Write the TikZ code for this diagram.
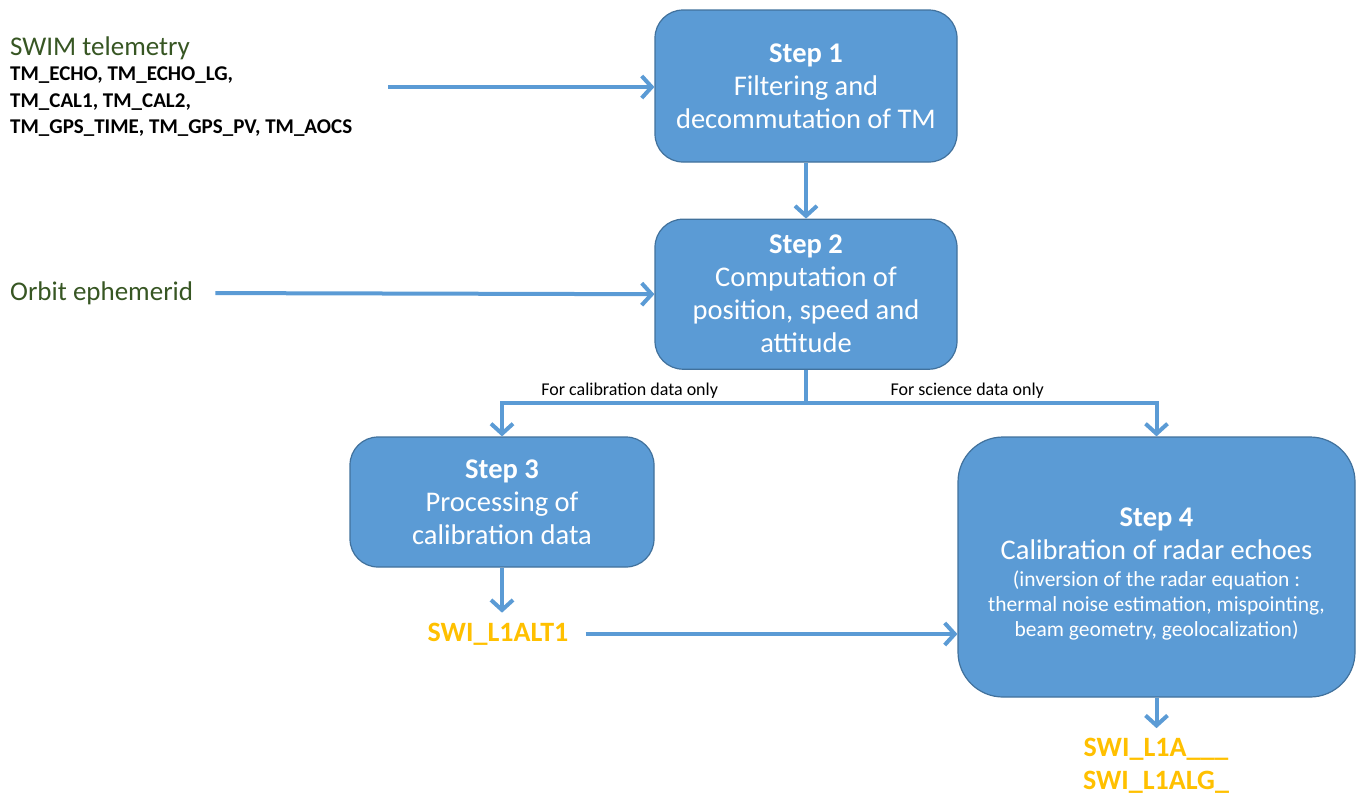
\documentclass[tikz,border=0pt]{standalone}
\usepackage{fontspec}
\setmainfont{Carlito}
\usetikzlibrary{arrows.meta,positioning}

\definecolor{stepfill}{HTML}{5B9BD5}
\definecolor{stepline}{HTML}{41719C}
\definecolor{ingreen}{HTML}{375623}
\definecolor{outorange}{HTML}{FFC000}

\newcommand{\stepfont}{\fontsize{28.5}{33}\selectfont}
\newcommand{\stepsmall}{\fontsize{21.5}{25}\selectfont}

\tikzset{
  stepbox/.style={draw=stepline, line width=1.2pt, fill=stepfill, text=white,
    align=center, font=\stepfont, inner sep=0pt, rounded corners=28pt},
  flow/.style={->, draw=stepfill, line width=4pt},
  inlabel/.style={text=ingreen, anchor=west, inner sep=0pt, font=\fontsize{27}{30}\selectfont},
  outlabel/.style={text=outorange, font=\fontsize{28}{33}\selectfont\bfseries, inner sep=0pt},
  branchlabel/.style={font=\fontsize{18}{20}\selectfont, above, inner sep=2pt}
}

\begin{document}
\begin{tikzpicture}[x=1pt, y=-1pt, >={Straight Barb[length=10pt,width=22pt]}]
  \useasboundingbox (0,0) rectangle (1362,796);

  % steps
  \node[stepbox, minimum width=302pt, minimum height=152pt] (s1) at (806,86)
    {\textbf{Step 1}\\Filtering and\\decommutation of TM};
  \node[stepbox, minimum width=302pt, minimum height=150pt] (s2) [below=56pt of s1]
    {\textbf{Step 2}\\Computation of\\position, speed and\\attitude};
  \node[stepbox, minimum width=304pt, minimum height=130pt] (s3) at (502,502)
    {\textbf{Step 3}\\Processing of\\calibration data};
  \node[stepbox, minimum width=397pt, minimum height=260pt, rounded corners=45pt] (s4) at (1156.5,567)
    {\rule{0pt}{36pt}\textbf{Step 4}\\Calibration of radar echoes\\[-6pt]
     {\stepsmall\begin{tabular}[t]{@{}c@{}}
       (inversion of the radar equation :\\
       thermal noise estimation, mispointing,\\
       beam geometry, geolocalization)
     \end{tabular}}};

  % inputs
  \node[inlabel] (tmtitle) at (10,48) {SWIM telemetry};
  \node[anchor=north west, inner sep=0pt, align=left, font=\fontsize{21}{26.5}\selectfont\bfseries]
    (tmlist) at (10,67) {TM\_ECHO, TM\_ECHO\_LG,\\TM\_CAL1, TM\_CAL2,\\TM\_GPS\_TIME, TM\_GPS\_PV, TM\_AOCS};
  \node[inlabel] (orbit) at (10,293) {Orbit ephemerid};
  \coordinate (tmout) at (388,87);

  % outputs
  \node[outlabel] (l1alt) at (498,634) {SWI\_L1ALT1};
  \node[outlabel, align=center] (l1a) at (1156,766) {SWI\_L1A\_\_\_\\SWI\_L1ALG\_};

  % arrows
  \draw[flow] (tmout) -- (tmout -| s1.west);
  \draw[flow, shorten <=22pt] (orbit.east) -- (s2.west);
  \draw[flow] (s1) -- (s2);
  \draw[flow] (s2.south) -- ++(0,33) -| node[branchlabel, pos=0.29] {For calibration data only} (s3.north);
  \draw[flow] (s2.south) -- ++(0,33) -| node[branchlabel, pos=0.23] {For science data only} (s4.north);
  \draw[flow, shorten >=10pt] (s3.south) -- (s3.south |- l1alt.north);
  \draw[flow, shorten <=17pt] (l1alt.east) -- (l1alt.east -| s4.west);
  \draw[flow, shorten >=10pt] (s4.south) -- (s4.south |- l1a.north);
\end{tikzpicture}
\end{document}
